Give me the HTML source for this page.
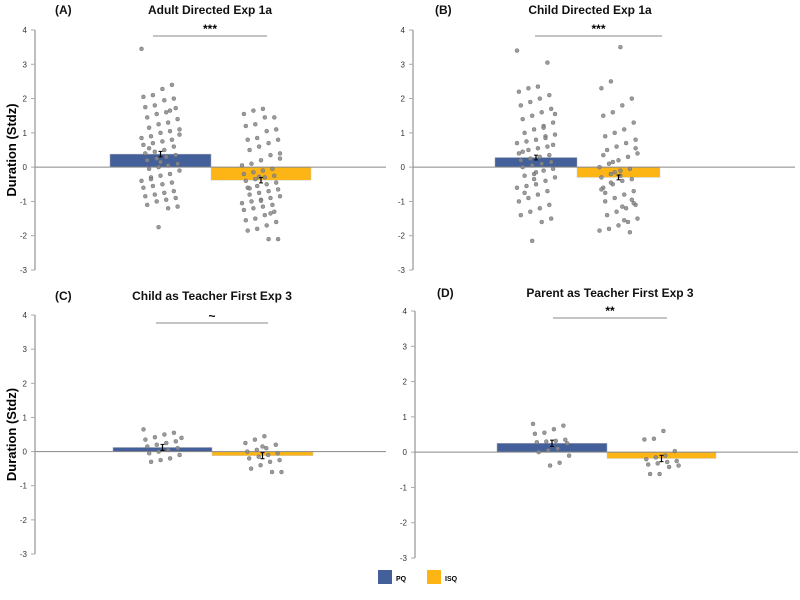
<!DOCTYPE html>
<html><head><meta charset="utf-8"><style>
body{margin:0;background:#fff;width:800px;height:595px;overflow:hidden;font-family:"Liberation Sans",sans-serif}
svg text{font-family:"Liberation Sans",sans-serif}
</style></head><body>
<svg id="c" width="800" height="595"></svg>
<script>
const panelTitles=["Adult Directed Exp 1a","Child Directed Exp 1a","Child as Teacher First Exp 3","Parent as Teacher First Exp 3"];
const panelLetters=["(A)","(B)","(C)","(D)"];
const sigLabels=["***","***","~","**"];
const pqMeans=[0.38,0.28,0.12,0.25];
const isqMeans=[-0.38,-0.30,-0.12,-0.18];
const pqErr=[0.08,0.07,0.09,0.09];
const isqErr=[0.08,0.07,0.09,0.09];
const yTicks=[4,3,2,1,0,-1,-2,-3];
const pqA=[3.45,2.4,2.28,2.1,2.05,2.0,1.95,1.8,1.75,1.72,1.6,1.55,1.45,1.4,1.3,1.25,1.15,1.1,1.05,1.0,0.9,0.85,0.8,0.75,0.7,0.65,0.6,0.5,0.45,0.4,0.35,0.3,0.25,0.2,0.1,0.05,0,-0.05,-0.1,-0.2,-0.25,-0.3,-0.4,-0.45,-0.5,-0.55,-0.6,-0.7,-0.75,-0.8,-0.85,-0.9,-0.95,-1.0,-1.1,-1.15,-1.2,-1.75,0.55,0.95,1.65,0.15,-0.35];
const isqA=[1.7,1.65,1.55,1.45,1.45,1.25,1.2,1.1,1.05,0.85,0.8,0.8,0.7,0.6,0.5,0.4,0.35,0.2,0.1,0.05,-0.05,-0.1,-0.15,-0.2,-0.25,-0.3,-0.35,-0.4,-0.45,-0.5,-0.55,-0.6,-0.65,-0.7,-0.75,-0.8,-0.85,-0.9,-0.95,-1.0,-1.05,-1.1,-1.15,-1.2,-1.25,-1.3,-1.4,-1.5,-1.55,-1.6,-1.7,-1.8,-1.85,-2.1,-2.1,-0.28,-0.62,0.25,-1.35,-0.98];
const pqB=[3.4,3.05,2.35,2.3,2.2,2.1,2.0,1.9,1.8,1.7,1.6,1.5,1.4,1.3,1.2,1.1,1.0,0.95,0.9,0.8,0.75,0.7,0.6,0.55,0.5,0.4,0.35,0.3,0.25,0.2,0.15,0.1,0.05,0,-0.05,-0.1,-0.2,-0.25,-0.3,-0.4,-0.5,-0.55,-0.6,-0.7,-0.8,-0.9,-1.0,-1.1,-1.2,-1.3,-1.4,-1.5,-1.6,-2.15,0.45,0.65,1.15,-0.35,-0.75,1.55,0.85,-0.15];
const isqB=[3.5,2.5,2.3,2.0,1.8,1.6,1.5,1.3,1.1,1.0,0.9,0.8,0.7,0.6,0.5,0.4,0.3,0.2,0.1,0,-0.05,-0.1,-0.2,-0.3,-0.35,-0.4,-0.5,-0.6,-0.7,-0.8,-0.9,-1.0,-1.1,-1.2,-1.3,-1.4,-1.5,-1.6,-1.7,-1.8,-1.85,-1.9,-0.25,-0.45,-0.65,-0.95,-1.15,0.15,0.35,-1.05,-1.55,-0.15,-0.75,0.55];
const pqC=[0.65,0.55,0.5,0.42,0.35,0.3,0.25,0.2,0.15,0.1,0.05,0,-0.05,-0.1,-0.2,-0.25,-0.3,0.4];
const isqC=[0.45,0.35,0.25,0.2,0.1,0.05,0,-0.05,-0.1,-0.15,-0.2,-0.25,-0.3,-0.4,-0.5,-0.6,-0.6,0.15];
const pqD=[0.8,0.75,0.65,0.55,0.52,0.35,0.32,0.3,0.28,0.25,0.1,0.05,0,-0.1,-0.3,-0.38];
const isqD=[0.6,0.38,0.36,0.03,-0.1,-0.15,-0.2,-0.25,-0.28,-0.32,-0.35,-0.38,-0.42,-0.62,-0.62];
const pqPts=[pqA,pqB,pqC,pqD], isqPts=[isqA,isqB,isqC,isqD];
// layout
const P=[
 {ax:35,top:30,bot:270,b0:110,b1:211,b2:311,zEnd:386,tx:210,ty:14,lx:10,s0:153,s1:267,sy:36},
 {ax:413,top:30,bot:270,b0:495,b1:577,b2:660,zEnd:795,tx:590,ty:14,lx:390,s0:535,s1:662,sy:36},
 {ax:35,top:315,bot:554,b0:113,b1:212,b2:313,zEnd:386,tx:212,ty:300,lx:10,s0:156,s1:268,sy:323},
 {ax:415,top:311,bot:558,b0:497,b1:607,b2:716,zEnd:798,tx:610,ty:297,lx:392,s0:553,s1:667,sy:318}];
const NS="http://www.w3.org/2000/svg",svg=document.getElementById('c');
function el(t,a,p){const e=document.createElementNS(NS,t);for(const k in a)e.setAttribute(k,a[k]);(p||svg).appendChild(e);return e;}
P.forEach((p,i)=>{
 const g=el('g',{});
 
 
 const y=v=>p.top+(4-v)*(p.bot-p.top)/7;
 const ax=el('line',{x1:p.ax,x2:p.ax,y1:p.top,y2:p.bot,stroke:'#aaa','stroke-width':1.5},g);
 
 
 yTicks.forEach(t=>{
  el('line',{x1:p.ax-4,x2:p.ax,y1:y(t),y2:y(t),stroke:'#aaa'},g);
  const tl=el('text',{x:p.ax-8,y:y(t)+3,'font-size':8,'text-anchor':'end',fill:'#333'},g);tl.textContent=t;
  
  
 });
 const b1=el('rect',{x:p.b0,y:Math.min(y(pqMeans[i]),y(0)),width:p.b1-p.b0,height:Math.abs(y(pqMeans[i])-y(0)),fill:'#44609a',stroke:'#aab',"stroke-width":0.5},g);
 
 
 const b2=el('rect',{x:p.b1,y:Math.min(y(isqMeans[i]),y(0)),width:p.b2-p.b1,height:Math.abs(y(isqMeans[i])-y(0)),fill:'#fdb515',stroke:'#ccc',"stroke-width":0.5},g);
 
 
 el('line',{x1:p.ax,x2:p.zEnd,y1:y(0),y2:y(0),stroke:'#888','stroke-width':1},g);
 [[pqPts[i],(p.b0+p.b1)/2],[isqPts[i],(p.b1+p.b2)/2]].forEach(([arr,cx],gi)=>{
  arr.forEach((v,k)=>{
   const dx=(((k*37+gi*11)%21)-10)*1.9;
   const c=el('circle',{cx:cx+dx,cy:y(v),r:2,fill:'#8a8a8a',stroke:'#666','stroke-width':0.4,'fill-opacity':0.85},g);
   
   
  });
 });
 [[pqMeans[i],pqErr[i],(p.b0+p.b1)/2],[isqMeans[i],isqErr[i],(p.b1+p.b2)/2]].forEach(([m,e,cx])=>{
  el('line',{x1:cx,x2:cx,y1:y(m+e),y2:y(m-e),stroke:'#000','stroke-width':1.2},g);
  el('line',{x1:cx-2,x2:cx+2,y1:y(m+e),y2:y(m+e),stroke:'#000'},g);
  el('line',{x1:cx-2,x2:cx+2,y1:y(m-e),y2:y(m-e),stroke:'#000'},g);
 });
 const sl=el('line',{x1:p.s0,x2:p.s1,y1:p.sy,y2:p.sy,stroke:'#888'},g);
 
 
 const st=el('text',{x:(p.s0+p.s1)/2,y:p.sy-3,'font-size':12,'font-weight':'bold','text-anchor':'middle'},g);st.textContent=sigLabels[i];
 
 
 const tt=el('text',{x:p.tx,y:p.ty,'font-size':12,'font-weight':'bold','text-anchor':'middle',fill:'#111'},g);tt.textContent=panelTitles[i];
 
 
 const lt=el('text',{x:p.lx+45,y:p.ty,'font-size':12,'font-weight':'bold',fill:'#111'},g);lt.textContent=panelLetters[i];
 
 
 if(i%2==0){
  const yl=el('text',{x:0,y:0,'font-size':13,'font-weight':'bold','text-anchor':'middle',transform:`translate(16,${y(0.5)}) rotate(-90)`},g);yl.textContent='Duration (Stdz)';
  
  
 }
});
const lg=el('g',{});


el('rect',{x:378,y:570,width:14,height:14,fill:'#44609a'},lg);
const t1=el('text',{x:396,y:581,'font-size':7,'font-weight':'bold'},lg);t1.textContent='PQ';


el('rect',{x:427,y:570,width:14,height:14,fill:'#fdb515'},lg);
const t2=el('text',{x:445,y:581,'font-size':7,'font-weight':'bold'},lg);t2.textContent='ISQ';


</script>
</body></html>
